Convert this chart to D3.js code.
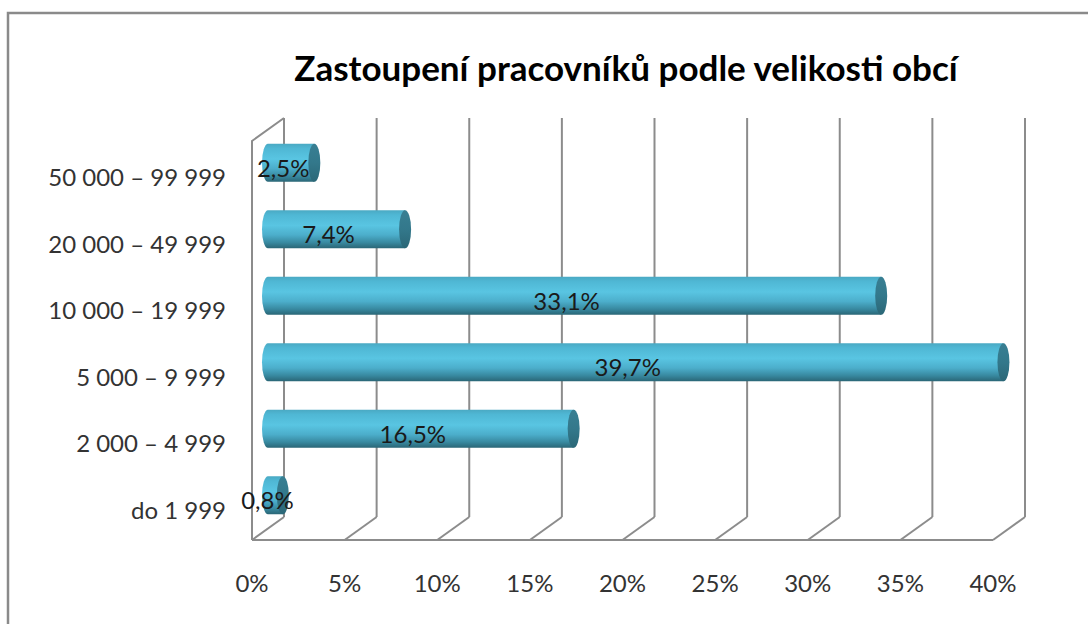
<!DOCTYPE html>
<html lang="cs">
  <head>
    <meta charset="utf-8" />
    <title>Zastoupení pracovníků</title>
    <script src="https://d3js.org/d3.v7.min.js"></script>
    <style>
      body { margin: 0; background: #fff; }
      text { font-family: Lato, "Open Sans", sans-serif; }
    </style>
  </head>
  <body>
    <script>
      // chart data
      const categories = ["do 1 999", "2 000 – 4 999", "5 000 – 9 999", "10 000 – 19 999", "20 000 – 49 999", "50 000 – 99 999"];
      const values = [0.8, 16.5, 39.7, 33.1, 7.4, 2.5];
      const ticks = [0, 5, 10, 15, 20, 25, 30, 35, 40];

      const W = 1088, H = 624;
      const GRID = "#8c8c8c";
      // 3d depth offset of the back wall
      const DX = 32, DY = -23;

      const svg = d3.select("body").append("svg")
        .attr("width", W).attr("height", H);

      // outer frame
      svg.append("rect")
        .attr("x", 8).attr("y", 13).attr("width", 1100).attr("height", 700)
        .attr("fill", "none").attr("stroke", "#8a8a8a").attr("stroke-width", 2.5);

      svg.append("text")
        .attr("x", 626).attr("y", 81)
        .attr("text-anchor", "middle")
        .style("font-size", "35px").style("font-weight", "bold")
        .attr("fill", "#000")
        .text("Zastoupení pracovníků podle velikosti obcí");

      // front plane scales
      const x = d3.scaleLinear().domain([0, 40]).range([252, 993]);
      const y = d3.scaleBand().domain(categories).range([540, 141]);

      const g = svg.append("g").attr("stroke", GRID).attr("stroke-width", 2).attr("fill", "none");

      // back wall verticals
      g.selectAll(".vg").data(ticks).join("line")
        .attr("x1", d => x(d) + DX).attr("x2", d => x(d) + DX)
        .attr("y1", y.range()[1] + DY).attr("y2", y.range()[0] + DY);

      // floor diagonals
      g.selectAll(".fd").data(ticks).join("line")
        .attr("x1", d => x(d)).attr("x2", d => x(d) + DX)
        .attr("y1", y.range()[0]).attr("y2", y.range()[0] + DY);

      // floor front edge
      g.append("line")
        .attr("x1", x(0)).attr("x2", x(40))
        .attr("y1", y.range()[0]).attr("y2", y.range()[0]);

      // left wall
      g.append("path")
        .attr("d", `M${x(0)},${y.range()[0]}V${y.range()[1]}L${x(0) + DX},${y.range()[1] + DY}`);

      // axis labels
      svg.append("g").selectAll("text").data(ticks).join("text")
        .attr("x", d => x(d)).attr("y", 592)
        .attr("text-anchor", "middle")
        .style("font-size", "24px").attr("fill", "#333")
        .text(d => d + "%");

      svg.append("g").selectAll("text").data(categories).join("text")
        .attr("x", 226).attr("y", d => y(d) + y.bandwidth() / 2 + 12)
        .attr("text-anchor", "end")
        .style("font-size", "24px").attr("fill", "#333")
        .text(d => d);

      // cylinder gradient
      const defs = svg.append("defs");
      const grad = defs.append("linearGradient").attr("id", "cyl")
        .attr("x1", 0).attr("y1", 0).attr("x2", 0).attr("y2", 1);
      [[0, "#4aa9c3"], [0.12, "#4fb7d4"], [0.4, "#59c5e2"], [0.65, "#4caecb"], [0.85, "#3889a0"], [1, "#2a6676"]]
        .forEach(s => grad.append("stop").attr("offset", s[0]).attr("stop-color", s[1]));
      const capGrad = defs.append("linearGradient").attr("id", "cap")
        .attr("x1", 0).attr("y1", 0).attr("x2", 0).attr("y2", 1);
      [[0, "#387f93"], [0.5, "#33788b"], [1, "#2b6777"]]
        .forEach(s => capGrad.append("stop").attr("offset", s[0]).attr("stop-color", s[1]));

      // bars sit halfway into the depth
      const mx = d => x(d) + DX / 2;
      const my = d => y(d) + y.bandwidth() / 2 + DY / 2;
      const BH = 38, RX = 6;

      const bars = svg.append("g").selectAll("g").data(categories).join("g");

      bars.append("path")
        .attr("fill", "url(#cyl)")
        .attr("d", (c, i) => {
          const x0 = mx(0), x1 = mx(values[i]), cy = my(c), r = BH / 2;
          return `M${x1},${cy - r}L${x0},${cy - r}A${RX},${r} 0 0 0 ${x0},${cy + r}L${x1},${cy + r}Z`;
        });

      bars.append("ellipse")
        .attr("fill", "url(#cap)")
        .attr("cx", (c, i) => mx(values[i]))
        .attr("cy", c => my(c))
        .attr("rx", RX).attr("ry", BH / 2);

      bars.append("text")
        .attr("x", (c, i) => (mx(0) + mx(values[i])) / 2 - 8)
        .attr("y", c => my(c) + 14)
        .attr("text-anchor", "middle")
        .style("font-size", "24px").attr("fill", "#1a1a1a")
        .text((c, i) => String(values[i]).replace(".", ",") + "%");
    </script>
  </body>
</html>
